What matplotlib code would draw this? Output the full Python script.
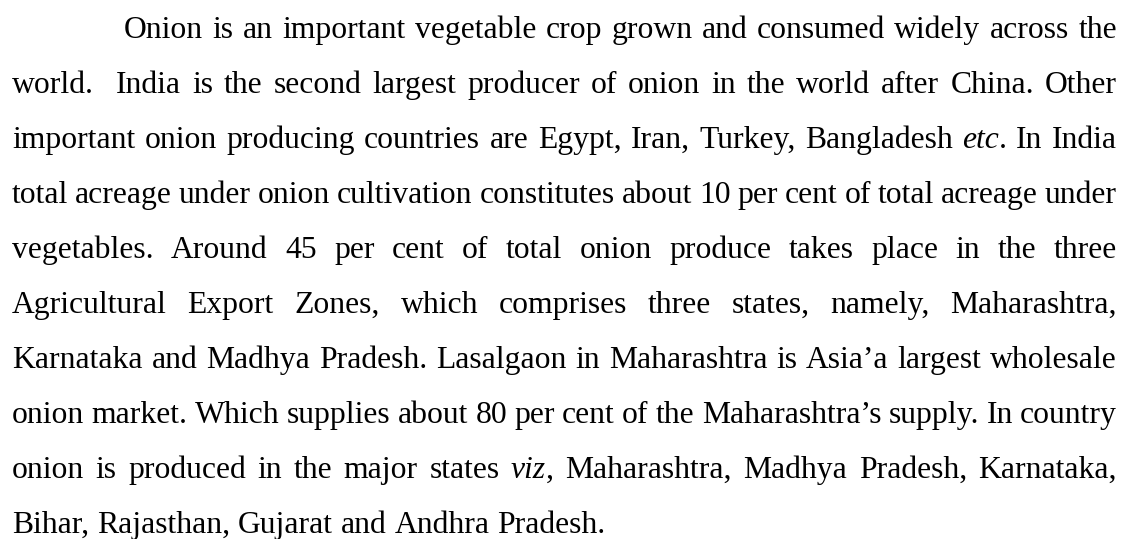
import matplotlib
matplotlib.use("Agg")
import matplotlib.pyplot as plt

# paragraph lines as they break in the source; *...* marks italic
lines = [
    "Onion is an important vegetable crop grown and consumed widely across the",
    "world.  India is the second largest producer of onion in the world after China. Other",
    "important onion producing countries are Egypt, Iran, Turkey, Bangladesh *etc*. In India",
    "total acreage under onion cultivation constitutes about 10 per cent of total acreage under",
    "vegetables. Around 45 per cent of total onion produce takes place in the three",
    "Agricultural Export Zones, which comprises three states, namely, Maharashtra,",
    "Karnataka and Madhya Pradesh. Lasalgaon in Maharashtra is Asia\u2019a largest wholesale",
    "onion market. Which supplies about 80 per cent of the Maharashtra\u2019s supply. In country",
    "onion is produced in the major states *viz*, Maharashtra, Madhya Pradesh, Karnataka,",
    "Bihar, Rajasthan, Gujarat and Andhra Pradesh.",
]

W, H = 1122, 539
left, right = 12, 1117
indent = 124
top_base = 38
line_gap = 55
fsize = 22.8

fig = plt.figure(figsize=(W / 100, H / 100), dpi=100)
ax = fig.add_axes([0, 0, 1, 1])
ax.set_xlim(0, W)
ax.set_ylim(H, 0)
ax.axis("off")
rend = fig.canvas.get_renderer()


def txt(x, y, s, italic=False):
    return ax.text(x, y, s, fontsize=fsize, family="Liberation Serif",
                   style="italic" if italic else "normal",
                   ha="left", va="baseline", color="black")


def width(s, italic=False):
    t = txt(0, 0, s, italic)
    w = t.get_window_extent(rend).width
    t.remove()
    return w


def segments(word):
    # split a word on '*' into (text, italic) pieces
    out = []
    for i, part in enumerate(word.split("*")):
        if part:
            out.append((part, i % 2 == 1))
    return out


space = width("n n") - width("nn")

for i, line in enumerate(lines):
    y = top_base + i * line_gap
    x0 = indent if i == 0 else left
    # words and number of spaces before each
    words, gaps = [], []
    n = 0
    for tok in line.split(" "):
        if tok == "":
            n += 1
            continue
        words.append(tok)
        gaps.append(n + 1 if words[:-1] else 0)
        n = 0
    wws = [sum(width(s, it) for s, it in segments(w)) for w in words]
    nsp = sum(gaps)
    if i < len(lines) - 1 and nsp:
        sp = (right - x0 - sum(wws)) / nsp
    else:
        sp = space
    x = x0
    for w, ww, g in zip(words, wws, gaps):
        x += g * sp
        xx = x
        for s, it in segments(w):
            t = txt(xx, y, s, it)
            xx += t.get_window_extent(rend).width
        x += ww

fig.savefig("out.png", dpi=100, facecolor="white")
